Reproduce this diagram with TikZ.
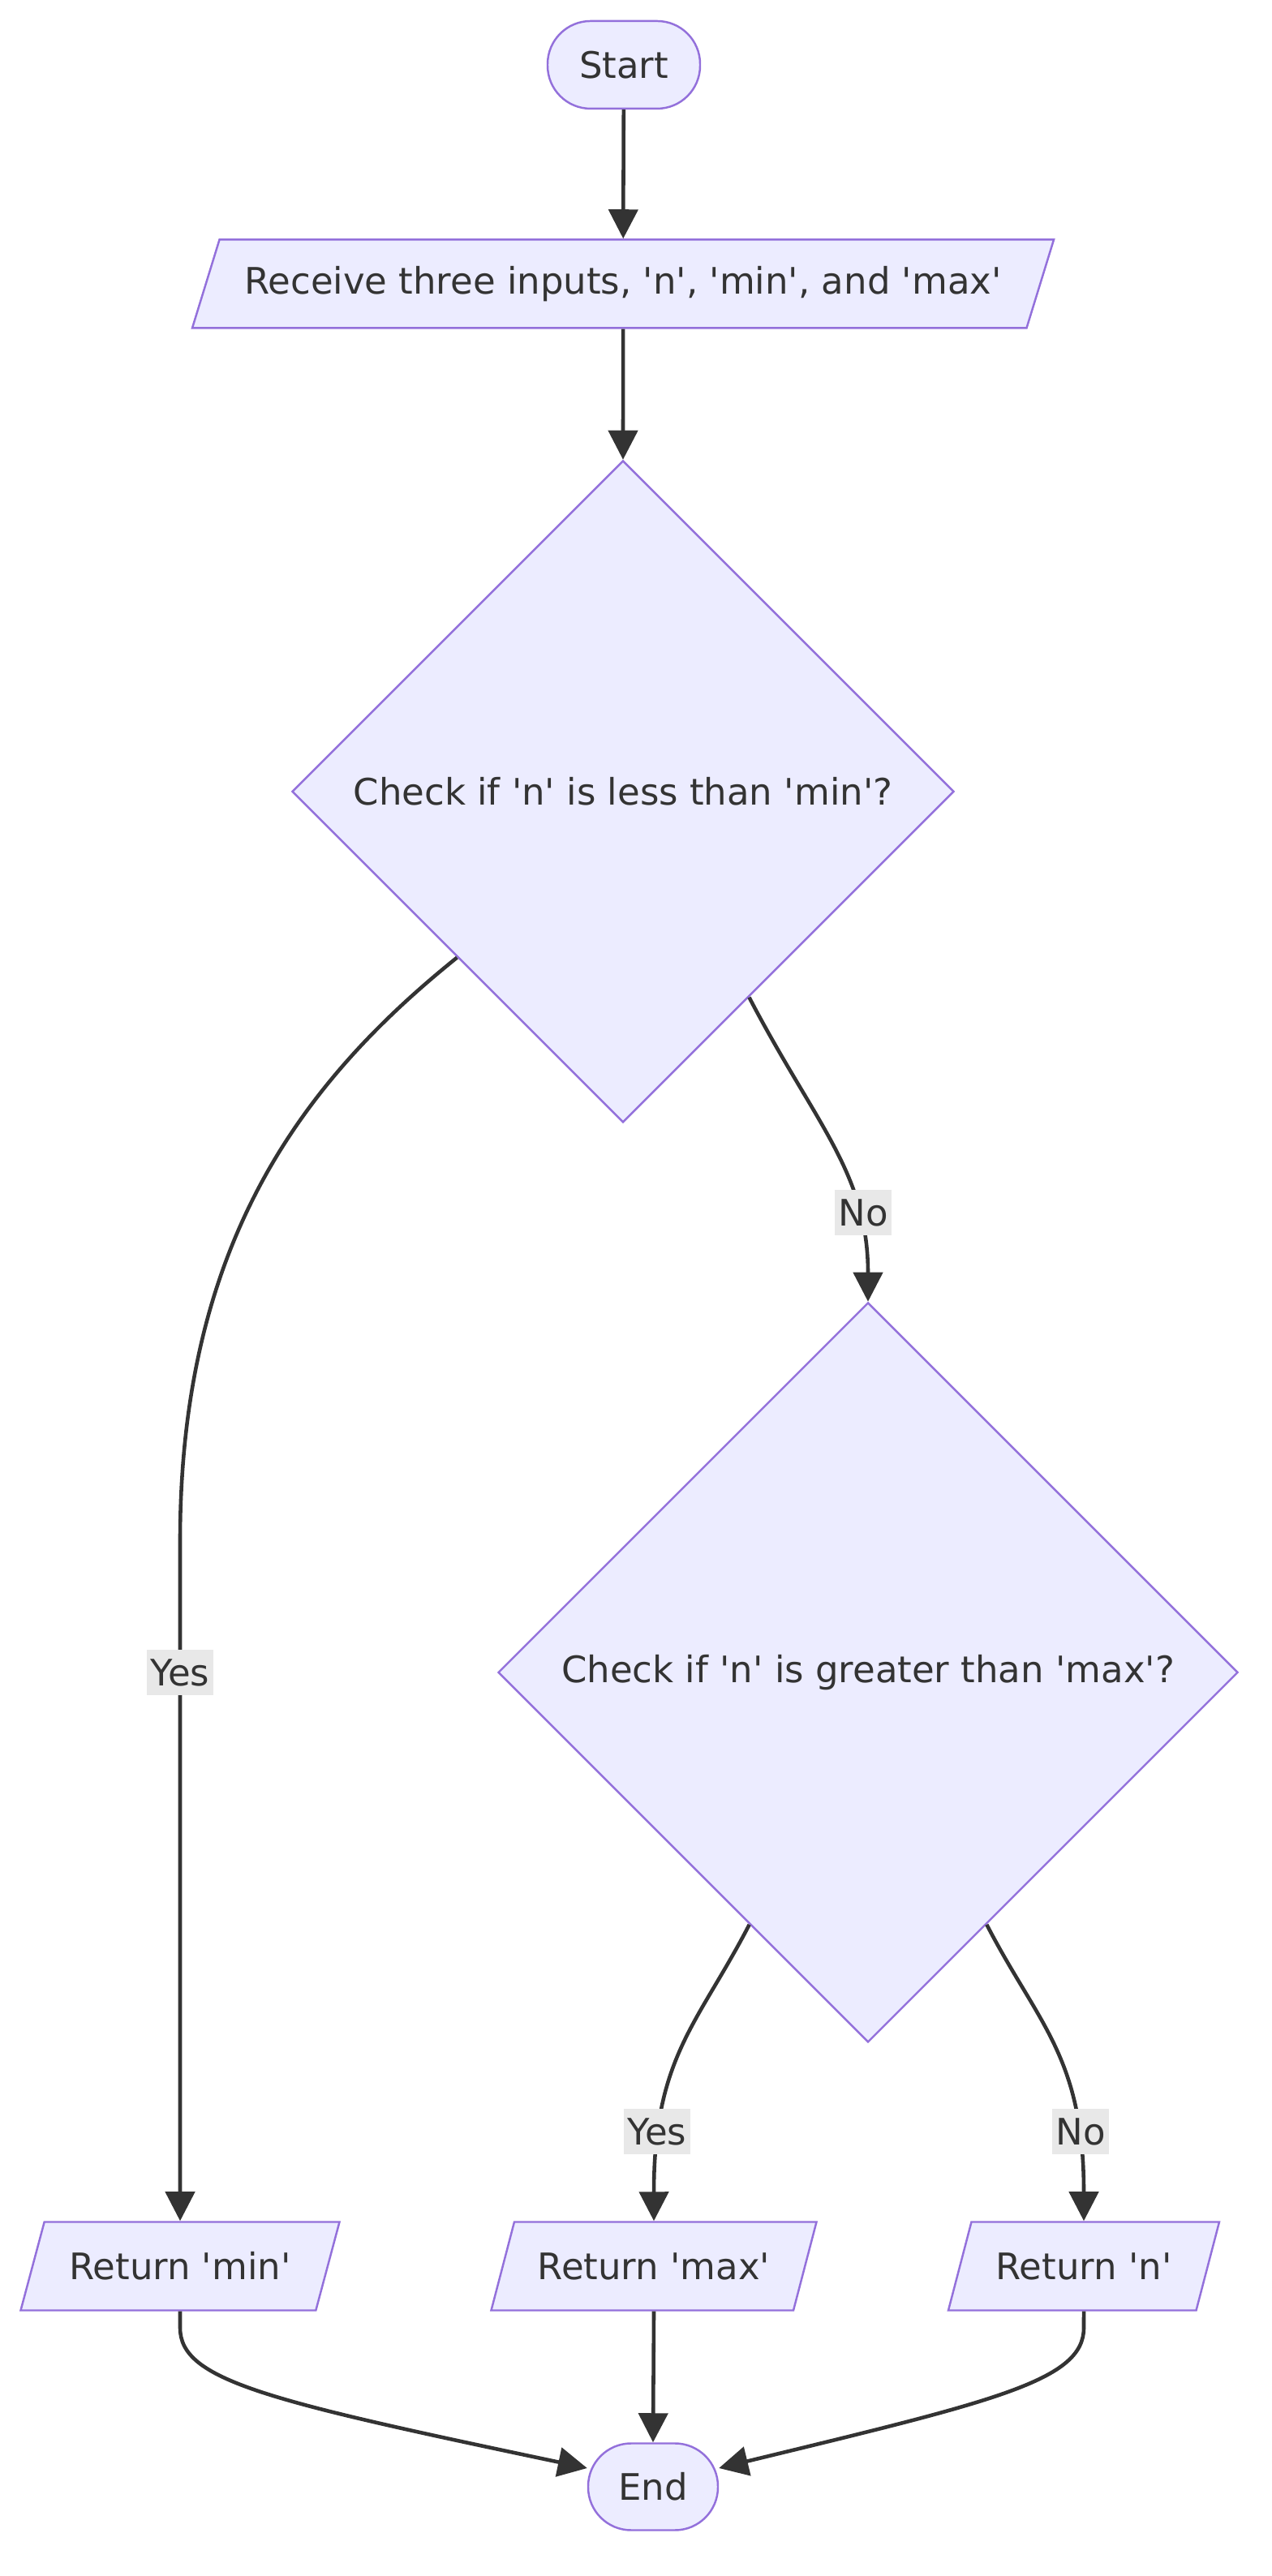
\documentclass[tikz,border=0pt]{standalone}
\usepackage{fontspec}
\setmainfont{DejaVu Sans}[Ligatures=TeXOff]
\usetikzlibrary{shapes.geometric,arrows.meta,calc}
\definecolor{boxfill}{HTML}{ECECFF}
\definecolor{boxline}{HTML}{9370DB}
\definecolor{ink}{HTML}{333333}
\definecolor{lblfill}{HTML}{E8E8E8}
\tikzset{
  base/.style={draw=boxline, fill=boxfill, line width=0.7pt, text=ink,
    font=\fontsize{12.8}{15}\selectfont},
  terminal/.style={base, rectangle, rounded corners=0.53cm, minimum height=1.08cm},
  inout/.style={base, trapezium, trapezium left angle=63.4, trapezium right angle=116.6,
    trapezium stretches body, minimum height=1.09cm, inner xsep=2pt},
  decision/.style={base, diamond, inner sep=0pt},
  flow/.style={draw=ink, line width=1.3pt, -{Triangle[length=3.6mm,width=3.6mm]}},
  lbl/.style={fill=lblfill, text=ink, inner xsep=1.2pt, inner ysep=3.2pt,
    font=\fontsize{12.8}{15}\selectfont}
}
\begin{document}
\begin{tikzpicture}
  \useasboundingbox[fill=white] (0,0) rectangle (15.68,31.76);
  % start and input
  \node[terminal, minimum width=1.88cm] (start) at (7.69,30.96) {Start};
  \node[inout, minimum width=10.62cm] (input) at (7.68,28.26) {Receive three inputs, 'n', 'min', and 'max'};
  % checks
  \node[decision, minimum width=8.16cm, minimum height=8.16cm] (chkmin) at (7.68,22.00) {Check if 'n' is less than 'min'?};
  \node[decision, minimum width=9.12cm, minimum height=9.12cm] (chkmax) at (10.70,11.14) {Check if 'n' is greater than 'max'?};
  % returns
  \node[inout, minimum width=3.93cm] (retmin) at (2.22,3.82) {Return 'min'};
  \node[inout, minimum width=4.01cm] (retmax) at (8.06,3.82) {Return 'max'};
  \node[inout, minimum width=3.34cm] (retn) at (13.36,3.82) {Return 'n'};
  \node[terminal, minimum width=1.60cm, minimum height=1.07cm] (end) at (8.05,1.10) {End};
  % connectors
  \draw[flow] (start) -- (input);
  \draw[flow] (input) -- (chkmin);
  \draw[flow] (chkmin.south west) .. controls (3.70,18.40) and (2.22,16.40) .. (2.22,12.76) -- (retmin.north);
  \draw[flow] ($(chkmin.east)!0.62!(chkmin.south)$) .. controls (10.05,17.90) and (10.70,17.30) .. (chkmax.north);
  \draw[flow] ($(chkmax.south)!0.32!(chkmax.west)$) .. controls (8.60,6.80) and (8.06,6.40) .. (retmax.north);
  \draw[flow] ($(chkmax.south)!0.32!(chkmax.east)$) .. controls (12.80,6.80) and (13.36,6.40) .. (retn.north);
  \draw[flow] (retmin.south) -- (2.22,3.06) .. controls (2.22,2.41) and (3.30,2.16) .. ($(end.west)+(0,0.23)$);
  \draw[flow] (retmax.south) -- (end.north);
  \draw[flow] (retn.south) -- (13.36,3.06) .. controls (13.36,2.41) and (12.28,2.16) .. ($(end.east)+(0,0.23)$);
  % edge labels
  \node[lbl] (yesmin) at (2.22,11.14) {Yes};
  \node[lbl] (nomin) at (10.64,16.81) {No};
  \node[lbl] (yesmax) at (8.10,5.48) {Yes};
  \node[lbl] (nomax) at (13.32,5.48) {No};
\end{tikzpicture}
\end{document}
